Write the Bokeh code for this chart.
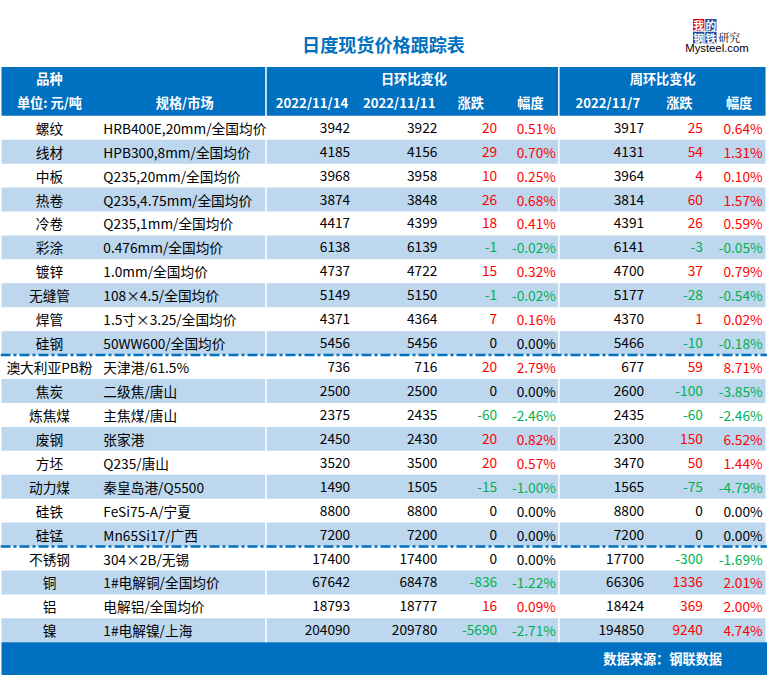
from bokeh.plotting import figure
from bokeh.models import Range1d, ColumnDataSource
from bokeh.core.properties import value
from bokeh.embed import file_html
from bokeh.resources import INLINE

# ---------------- data ----------------
names = ["螺纹", "线材", "中板", "热卷", "冷卷", "彩涂", "镀锌", "无缝管", "焊管", "硅钢",
         "澳大利亚PB粉", "焦炭", "炼焦煤", "废钢", "方坯", "动力煤", "硅铁", "硅锰",
         "不锈钢", "铜", "铝", "镍"]
specs = ["HRB400E,20mm/全国均价", "HPB300,8mm/全国均价", "Q235,20mm/全国均价",
         "Q235,4.75mm/全国均价", "Q235,1mm/全国均价", "0.476mm/全国均价", "1.0mm/全国均价",
         "108×4.5/全国均价", "1.5寸×3.25/全国均价", "50WW600/全国均价",
         "天津港/61.5%", "二级焦/唐山", "主焦煤/唐山", "张家港", "Q235/唐山",
         "秦皇岛港/Q5500", "FeSi75-A/宁夏", "Mn65Si17/广西",
         "304×2B/无锡", "1#电解铜/全国均价", "电解铝/全国均价", "1#电解镍/上海"]
p_1114 = [3942, 4185, 3968, 3874, 4417, 6138, 4737, 5149, 4371, 5456,
          736, 2500, 2375, 2450, 3520, 1490, 8800, 7200,
          17400, 67642, 18793, 204090]
p_1111 = [3922, 4156, 3958, 3848, 4399, 6139, 4722, 5150, 4364, 5456,
          716, 2500, 2435, 2430, 3500, 1505, 8800, 7200,
          17400, 68478, 18777, 209780]
day_chg = [20, 29, 10, 26, 18, -1, 15, -1, 7, 0,
           20, 0, -60, 20, 20, -15, 0, 0,
           0, -836, 16, -5690]
day_pct = [0.51, 0.70, 0.25, 0.68, 0.41, -0.02, 0.32, -0.02, 0.16, 0.00,
           2.79, 0.00, -2.46, 0.82, 0.57, -1.00, 0.00, 0.00,
           0.00, -1.22, 0.09, -2.71]
p_1107 = [3917, 4131, 3964, 3814, 4391, 6141, 4700, 5177, 4370, 5466,
          677, 2600, 2435, 2300, 3470, 1565, 8800, 7200,
          17700, 66306, 18424, 194850]
week_chg = [25, 54, 4, 60, 26, -3, 37, -28, 1, -10,
            59, -100, -60, 150, 50, -75, 0, 0,
            -300, 1336, 369, 9240]
week_pct = [0.64, 1.31, 0.10, 1.57, 0.59, -0.05, 0.79, -0.54, 0.02, -0.18,
            8.71, -3.85, -2.46, 6.52, 1.44, -4.79, 0.00, 0.00,
            -1.69, 2.01, 2.00, 4.74]
group_breaks = [10, 18]  # dashed separators before these rows

title = "日度现货价格跟踪表"
hdr_top = ["品种", "日环比变化", "周环比变化"]
hdr_sub = ["单位: 元/吨", "规格/市场", "2022/11/14", "2022/11/11", "涨跌", "幅度",
           "2022/11/7", "涨跌", "幅度"]
source_note = "数据来源：钢联数据"

# ---------------- style ----------------
FONT = value("Noto Sans CJK SC")
BLUE = "#0070C0"
STRIPE = "#BDD7EE"
RED = "#FF0000"
GREEN = "#00B050"
W, H = 783, 691
ROW0, ROWH = 118, 24.5
S = 0.98  # figure scale


def fs(px):
    return f"{px * S:.1f}px"


p = figure(width=767, height=675, x_range=Range1d(0, W), y_range=Range1d(H, 0),
           output_backend="svg", toolbar_location=None, min_border=0)
p.axis.visible = False
p.grid.visible = False
p.outline_line_color = None
p.background_fill_color = "white"
p.border_fill_color = "white"

n = len(names)
tops = [ROW0 + ROWH * i for i in range(n)]
mids = [t + ROWH / 2 for t in tops]

# stripes
st = [i for i in range(n) if i % 2 == 1]
p.quad(left=1, right=781, top=[tops[i] for i in st], bottom=[tops[i] + ROWH for i in st],
       fill_color=STRIPE, line_color=None)

# header and footer bands
p.quad(left=1, right=781, top=68, bottom=ROW0, fill_color=BLUE, line_color=None)
foot_top = ROW0 + ROWH * n
p.quad(left=1, right=783, top=foot_top, bottom=H, fill_color=BLUE, line_color=None)

# vertical white separators
for xv in (271, 570):
    p.segment(x0=xv, y0=68, x1=xv, y1=foot_top, line_color="white", line_width=1.5)

# dashed group separators
for b in group_breaks:
    p.segment(x0=0, y0=tops[b], x1=783, y1=tops[b], line_color=BLUE, line_width=2.5,
              line_dash="10 3 3 3")


def txt(x, y, t, align="center", color="black", size=14, bold=False, font=FONT):
    p.text(x=x, y=y, text=t, text_align=align, text_baseline="middle",
           text_color=color, text_font_size=fs(size), text_font=font,
           text_font_style="bold" if bold else "normal")


# title
txt([391], [45], [title], color=BLUE, size=18.5, bold=True)

# logo
p.quad(left=[707], right=[718.5], top=[19], bottom=[31], fill_color="#E60012", line_color=None)
p.quad(left=[719.5, 707, 719.5], right=[731, 718.5, 731], top=[19, 32, 32],
       bottom=[31, 44, 44], fill_color="#1F4E9E", line_color=None)
txt([712.75, 725.25, 712.75, 725.25], [25, 25, 38, 38], ["我", "的", "钢", "铁"],
    color="white", size=11, bold=True)
txt([733], [38], ["研究"], align="left", size=11, font=value("Noto Serif CJK SC"))
txt([699], [48.5], ["Mysteel.com"], align="left", size=11.5, bold=False,
    font=value("Liberation Sans"))

# header texts
txt([50, 422, 676], [80] * 3, hdr_top, color="white", size=13.5, bold=True)
sub_x = [50, 188, 318, 407, 480, 541, 620, 693, 754]
txt(sub_x, [104] * 9, hdr_sub, color="white", size=13.5, bold=True)


def col(v):
    return RED if v > 0 else (GREEN if v < 0 else "black")


# body
txt([50] * n, mids, names, size=14)
txt([105] * n, mids, specs, align="left", size=14)
txt([357] * n, mids, [str(v) for v in p_1114], align="right", size=14)
txt([446] * n, mids, [str(v) for v in p_1111], align="right", size=14)
src = ColumnDataSource(dict(
    y=mids,
    dc=[str(v) for v in day_chg], dcc=[col(v) for v in day_chg],
    dp=[f"{v:.2f}%" for v in day_pct], dpc=[col(v) for v in day_pct],
    wc=[str(v) for v in week_chg], wcc=[col(v) for v in week_chg],
    wp=[f"{v:.2f}%" for v in week_pct], wpc=[col(v) for v in week_pct],
))
for xr, tf, cf in ((507, "dc", "dcc"), (567, "dp", "dpc"), (717, "wc", "wcc"), (778, "wp", "wpc")):
    p.text(x=xr, y="y", text=tf, text_color=cf, source=src, text_align="right",
           text_baseline="middle", text_font_size=fs(14), text_font=FONT)
txt([657] * n, mids, [str(v) for v in p_1107], align="right", size=14)

# footer
txt([676], [(foot_top + H) / 2], [source_note], color="white", size=13.5, bold=True)

open("out.html", "w").write(file_html(p, INLINE))
